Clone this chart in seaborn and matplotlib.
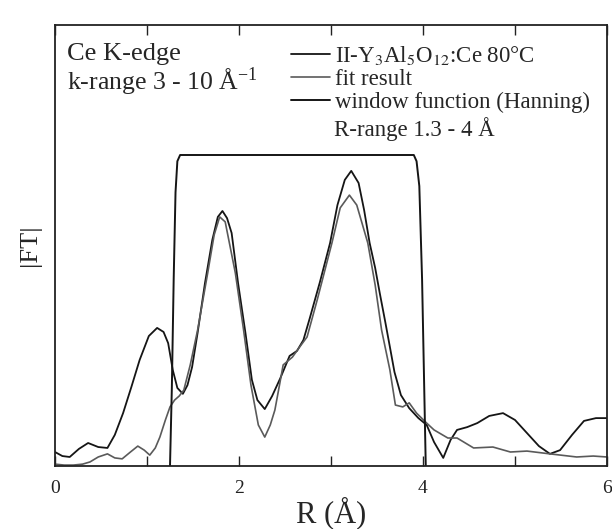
import numpy as np
import pandas as pd
import matplotlib
matplotlib.use("Agg")
import matplotlib.pyplot as plt
import seaborn as sns

# ---- data (window function normalised to 1) ----
r_data = [0.00, 0.08, 0.16, 0.26, 0.36, 0.47, 0.57, 0.65, 0.74, 0.83, 0.92, 1.02,
          1.11, 1.18, 1.23, 1.28, 1.33, 1.39, 1.44, 1.49, 1.55, 1.63, 1.71, 1.77,
          1.82, 1.87, 1.92, 1.99, 2.07, 2.14, 2.20, 2.28, 2.36, 2.45, 2.55, 2.63,
          2.70, 2.77, 2.88, 2.99, 3.07, 3.15, 3.22, 3.30, 3.36, 3.42, 3.48, 3.53,
          3.59, 3.64, 3.69, 3.76, 3.85, 3.95, 4.04, 4.12, 4.22, 4.30, 4.37, 4.48,
          4.59, 4.72, 4.87, 5.00, 5.13, 5.26, 5.38, 5.49, 5.62, 5.75, 5.88, 6.00]
ft_data = [0.045, 0.032, 0.029, 0.055, 0.074, 0.061, 0.058, 0.100, 0.170, 0.254, 0.341, 0.418,
           0.444, 0.431, 0.395, 0.309, 0.251, 0.232, 0.260, 0.318, 0.428, 0.588, 0.727, 0.801,
           0.820, 0.797, 0.749, 0.588, 0.428, 0.277, 0.212, 0.183, 0.225, 0.283, 0.354, 0.370,
           0.405, 0.476, 0.592, 0.717, 0.839, 0.920, 0.949, 0.910, 0.823, 0.717, 0.637, 0.556,
           0.463, 0.383, 0.302, 0.228, 0.186, 0.154, 0.132, 0.077, 0.026, 0.084, 0.116, 0.125,
           0.138, 0.161, 0.170, 0.148, 0.106, 0.064, 0.039, 0.051, 0.100, 0.145, 0.154, 0.154]

r_fit = [0.00, 0.10, 0.20, 0.30, 0.38, 0.47, 0.57, 0.65, 0.73, 0.82, 0.90, 0.97,
         1.03, 1.09, 1.14, 1.20, 1.25, 1.30, 1.35, 1.40, 1.47, 1.55, 1.66, 1.73,
         1.79, 1.85, 1.96, 2.05, 2.13, 2.21, 2.28, 2.34, 2.39, 2.44, 2.48, 2.58,
         2.66, 2.74, 2.85, 3.01, 3.10, 3.20, 3.28, 3.40, 3.48, 3.55, 3.64, 3.70,
         3.78, 3.85, 3.93, 4.04, 4.12, 4.27, 4.37, 4.55, 4.76, 4.95, 5.13, 5.38,
         5.67, 5.85, 6.00]
ft_fit = [0.006, 0.003, 0.003, 0.006, 0.013, 0.029, 0.039, 0.026, 0.023, 0.045, 0.064, 0.051,
          0.035, 0.058, 0.093, 0.148, 0.190, 0.212, 0.225, 0.244, 0.325, 0.437, 0.621, 0.743,
          0.801, 0.785, 0.621, 0.437, 0.260, 0.132, 0.093, 0.132, 0.180, 0.260, 0.325, 0.350,
          0.383, 0.415, 0.534, 0.717, 0.830, 0.871, 0.839, 0.717, 0.582, 0.437, 0.309, 0.196,
          0.190, 0.203, 0.170, 0.138, 0.116, 0.090, 0.090, 0.058, 0.061, 0.045, 0.048, 0.039,
          0.029, 0.032, 0.029]

r_win = [1.25, 1.27, 1.29, 1.31, 1.33, 1.36, 3.90, 3.93, 3.96, 3.99, 4.01, 4.03]
w_win = [0.00, 0.25, 0.60, 0.88, 0.98, 1.00, 1.00, 0.98, 0.90, 0.60, 0.30, 0.00]

labels = ["II-Y$_3$Al$_5$O$_{12}$:Ce 80°C", "fit result", "window function (Hanning)"]
x_ticks = [0, 2, 4, 6]

# ---- style ----
sns.set_theme(style="ticks")
plt.rcParams["font.family"] = ["Liberation Serif", "DejaVu Serif"]
plt.rcParams["mathtext.fontset"] = "stix"

fig = plt.figure(figsize=(6.12, 5.29), dpi=100)
ax = fig.add_axes([55 / 612, 1 - 466 / 529, 552 / 612, 441 / 529])

df_data = pd.DataFrame({"R": r_data, "FT": ft_data})
df_fit = pd.DataFrame({"R": r_fit, "FT": ft_fit})
df_win = pd.DataFrame({"R": r_win, "FT": w_win})

sns.lineplot(data=df_data, x="R", y="FT", ax=ax, color="#151515", lw=1.3,
             estimator=None, label=labels[0])
sns.lineplot(data=df_fit, x="R", y="FT", ax=ax, color="#5a5a5a", lw=1.2,
             estimator=None, label=labels[1])
sns.lineplot(data=df_win, x="R", y="FT", ax=ax, color="#151515", lw=1.4,
             estimator=None, label=labels[2])

ax.set_xlim(0, 6)
ax.set_ylim(0, 1.418)
ax.set_xticks(x_ticks)
ax.set_xticks([1, 3, 5], minor=True)
ax.set_xticklabels([str(t) for t in x_ticks], fontsize=14)
ax.set_yticks([])
ax.tick_params(axis="x", which="both", direction="in", top=True, length=7, width=1.0,
               pad=10, colors="#222222")
for s in ax.spines.values():
    s.set_linewidth(1.3)
    s.set_color("#222222")

ax.set_xlabel("R (Å)", fontsize=22, labelpad=0)
ax.set_ylabel("|FT|", fontsize=19, labelpad=10)

ax.text(0.022, 0.935, "Ce K-edge", transform=ax.transAxes, fontsize=19,
        va="center", ha="left")
ax.text(0.022, 0.871, "k-range 3 - 10 Å$^{\\mathregular{-1}}$", transform=ax.transAxes,
        fontsize=18.5, va="center", ha="left")

leg = ax.legend(loc="upper left", bbox_to_anchor=(0.428, 0.957), frameon=False,
                fontsize=16.5, handlelength=1.7, handletextpad=0.2,
                labelspacing=0.08, borderpad=0.0, borderaxespad=0.0)
ax.text(0.505, 0.764, "R-range 1.3 - 4 Å", transform=ax.transAxes, fontsize=16.5,
        va="center", ha="left")

fig.savefig("out.png", dpi=100)
